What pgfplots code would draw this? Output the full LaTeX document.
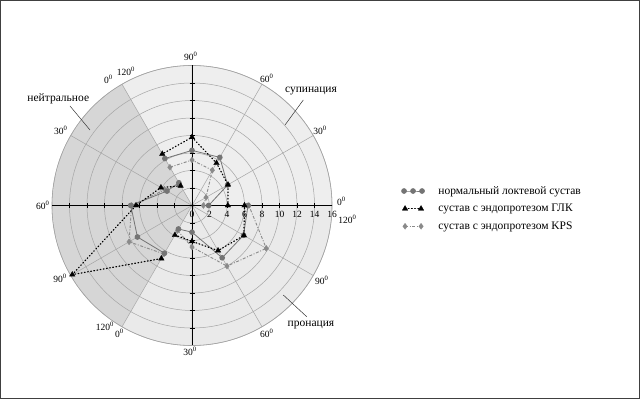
\documentclass[border=0pt]{standalone}
\usepackage{fontspec}
\setmainfont{Liberation Serif}
\usepackage{pgfplots}
\pgfplotsset{compat=1.18}
\usepgfplotslibrary{polar}
\definecolor{neut}{HTML}{D6D6D6}
\definecolor{supi}{HTML}{EEEEEE}
\definecolor{pron}{HTML}{EAEAEA}
\definecolor{gridc}{HTML}{A5A5A5}
\definecolor{normc}{HTML}{747474}
\definecolor{kpsc}{HTML}{8A8A8A}
\pgfplotsset{
  leg3/.style={legend image code/.code={\draw[##1] plot coordinates {(0pt,0pt) (9pt,0pt) (18pt,0pt)};}},
  leg2/.style={legend image code/.code={\draw[##1] plot coordinates {(1pt,0pt) (17pt,0pt)};}},
  normst/.style={normc, line width=0.8pt, mark=*, mark size=2.4pt, mark options={solid, fill=normc, draw=normc}},
  glkst/.style={black, line width=1.2pt, dash pattern=on 0.8pt off 2.4pt, line cap=round, mark=triangle*, mark size=3.2pt, mark options={solid, fill=black, draw=black, line width=0.3pt}},
  kpsst/.style={kpsc, line width=0.9pt, dash pattern=on 3pt off 1.6pt on 1pt off 1.6pt, mark=diamond*, mark size=3pt, mark options={solid, fill=kpsc, draw=kpsc, line width=0.3pt}},
}
\begin{document}
\begin{tikzpicture}[x=1pt,y=1pt]
\draw[line width=0.8pt, black!75] (0.4,0.4) rectangle (639.6,398.6);
\begin{polaraxis}[
  set layers,
  at={(192pt,193.5pt)}, anchor=center,
  scale only axis, width=280pt, height=280pt,
  xmin=0, xmax=360, ymin=0, ymax=16,
  xtick={0,30,...,330}, ytick={2,4,...,16},
  xticklabels={}, yticklabels={},
  major tick length=0pt,
  grid=major,
  major grid style={gridc, line width=0.5pt},
  axis line style={gridc, line width=0.6pt},
  clip=false,
  legend style={at={(axis description cs:1.248,0.489)}, anchor=west, draw=none, fill=none,
    font=\fontsize{11.5}{13}\selectfont, row sep=4.5pt, inner sep=0pt},
  legend cell align=left,
]
% background sectors
\addplot[on layer=axis background, draw=none, fill=supi, forget plot] coordinates {(0,0) (0,16) (10,16) (20,16) (30,16) (40,16) (50,16) (60,16) (70,16) (80,16) (90,16) (100,16) (110,16) (120,16) (120,0)};
\addplot[on layer=axis background, draw=none, fill=neut, forget plot] coordinates {(120,0) (120,16) (130,16) (140,16) (150,16) (160,16) (170,16) (180,16) (190,16) (200,16) (210,16) (220,16) (230,16) (240,16) (240,0)};
\addplot[on layer=axis background, draw=none, fill=pron, forget plot] coordinates {(240,0) (240,16) (250,16) (260,16) (270,16) (280,16) (290,16) (300,16) (310,16) (320,16) (330,16) (340,16) (350,16) (360,16) (360,0)};
% black cross axes
\draw[black, line width=0.9pt] (axis cs:0,16) -- (axis cs:180,16);
\draw[black, line width=0.9pt] (axis cs:90,16) -- (axis cs:270,16);
\pgfplotsinvokeforeach{2,4,6,8,10,12,14}{
  \draw[black, line width=0.7pt] ([yshift=-2.5pt]axis cs:0,#1) -- ([yshift=2.5pt]axis cs:0,#1);
  \draw[black, line width=0.7pt] ([yshift=-2.5pt]axis cs:180,#1) -- ([yshift=2.5pt]axis cs:180,#1);
  \draw[black, line width=0.7pt] ([xshift=-2.5pt]axis cs:90,#1) -- ([xshift=2.5pt]axis cs:90,#1);
  \draw[black, line width=0.7pt] ([xshift=-2.5pt]axis cs:270,#1) -- ([xshift=2.5pt]axis cs:270,#1);
}
% KPS
\addplot[kpsst, forget plot] coordinates {(0,1.3) (30,1.85) (60,4.65) (90,5.2) (120,5.05)};
\addplot[kpsst, forget plot] coordinates {(120,2.8) (150,3.6) (180,6.9) (210,8.3) (240,6.4)};
\addplot[kpsst, forget plot] coordinates {(240,3.3) (270,4.75) (300,8.0) (330,9.8) (360,6.5)};
% normal
\addplot[normst, forget plot] coordinates {(0,1.9) (30,4.7) (60,6.35) (90,6.3) (120,6.2)};
\addplot[normst, forget plot] coordinates {(120,3.0) (150,3.3) (180,7.0) (210,7.2) (240,6.3)};
\addplot[normst, forget plot] coordinates {(240,3.1) (270,3.05) (300,6.9) (330,6.8) (360,6.4)};
% GLK
\addplot[glkst, forget plot] coordinates {(0,4.1) (30,4.75) (60,5.6) (90,7.8) (120,6.8)};
\addplot[glkst, forget plot] coordinates {(120,2.6) (150,4.1) (180,6.4) (210,15.8) (240,7.0)};
\addplot[glkst, forget plot] coordinates {(240,3.9) (270,4.1) (300,5.95) (330,6.85) (360,6.0)};
% legend
\addlegendimage{normst, leg3}
\addlegendentry{\hspace{12pt}нормальный локтевой сустав}
\addlegendimage{glkst, leg2}
\addlegendentry{\hspace{12pt}сустав с эндопротезом ГЛК}
\addlegendimage{kpsst, leg2}
\addlegendentry{\hspace{12pt}сустав с эндопротезом KPS}
\end{polaraxis}
% radial tick labels
\begin{scope}[font=\fontsize{9.5}{10}\selectfont]
\foreach \r in {0,2,4,6,8,10,12,14,16} {
  \node at ({192+\r*8.75}, 185) {\r};
}
\end{scope}
% angle labels
\begin{scope}[font=\fontsize{9.5}{10}\selectfont, inner sep=0pt]
\node at (190.7,342.3) {90\textsuperscript{0}};
\node at (266.7,320.7) {60\textsuperscript{0}};
\node at (320,269) {30\textsuperscript{0}};
\node at (341.5,198) {0\textsuperscript{0}};
\node at (347.5,179.5) {120\textsuperscript{0}};
\node at (321.7,119) {90\textsuperscript{0}};
\node at (266.7,65.7) {60\textsuperscript{0}};
\node at (190,47.3) {30\textsuperscript{0}};
\node at (105,73) {120\textsuperscript{0}};
\node at (119.3,65.7) {0\textsuperscript{0}};
\node at (60,120.7) {90\textsuperscript{0}};
\node at (42.7,193.3) {60\textsuperscript{0}};
\node at (60.7,268.3) {30\textsuperscript{0}};
\node at (108.3,319.7) {0\textsuperscript{0}};
\node at (126,327.3) {120\textsuperscript{0}};
\end{scope}
% annotations
\begin{scope}[font=\fontsize{11.5}{13}\selectfont]
\node at (58.3,300.7) {нейтральное};
\draw[black!80, line width=0.5pt] (70,293) -- (90,269);
\node at (311,308) {супинация};
\draw[black!80, line width=0.5pt] (303.3,299) -- (285,274);
\node at (311,74) {пронация};
\draw[black!80, line width=0.5pt] (306.7,82.3) -- (283.3,104);
\end{scope}
\end{tikzpicture}
\end{document}
